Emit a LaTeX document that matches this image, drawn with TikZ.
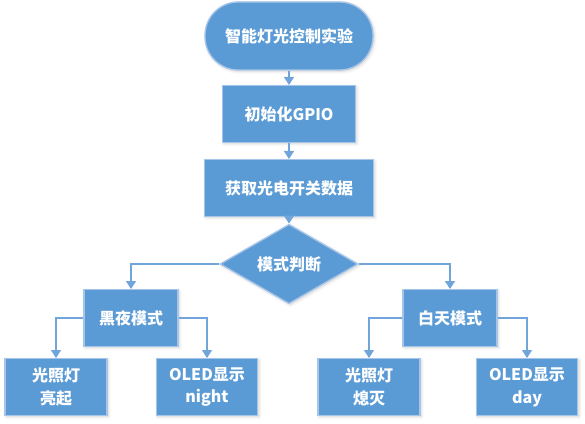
\documentclass[tikz,border=0pt]{standalone}
\usepackage{fontspec}
\setmainfont{Noto Sans CJK SC}
\usepackage{xcolor}
\usepackage{tikz}
\usetikzlibrary{arrows.meta}
\usetikzlibrary{shapes.geometric}
\usetikzlibrary{shadows.blur}

\definecolor{boxblue}{HTML}{5B9BD5}
\definecolor{rimblue}{HTML}{A7C5E8}
\definecolor{lineblue}{HTML}{6FA5DB}

\begin{document}
\begin{tikzpicture}[
                x = 0.75pt, y = -0.75pt,
                base/.style = {fill=boxblue, draw=rimblue, line width=1pt, text=white,
                    font=\bfseries\fontsize{12pt}{17pt}\selectfont, align=center, inner sep=0pt,
                    blur shadow={shadow xshift=1pt, shadow yshift=-1pt, shadow opacity=18, shadow blur steps=4}},
                start/.style = {base, rectangle, rounded corners=25pt, minimum width=126pt, minimum height=51pt},
                proc/.style = {base, rectangle, minimum width=#1, minimum height=42.5pt},
                judge/.style = {base, diamond, minimum width=103.5pt, minimum height=41.25pt},
                arr/.style = {draw=lineblue, line width=1pt, -{Triangle[width=7.5pt, length=6pt]}},
            ]
            \useasboundingbox (0,0) rectangle (585,424);

            \node (start) [start] at (289,36){智能灯光控制实验};
            \node (init) [proc=99.75pt] at (289,114){初始化GPIO};
            \node (data) [proc=126.75pt] at (289,188){获取光电开关数据};
            \node (mode) [judge] at (289,264){模式判断};

            \node (night) [proc=70.5pt] at (131,318){黑夜模式};
            \node (day) [proc=70.5pt] at (450,318){白天模式};

            \node (lampon) [proc=76.5pt] at (56,387){光照灯\\亮起};
            \node (olednight) [proc=76pt] at (207,387){OLED显示\\night};
            \node (lampoff) [proc=76.5pt] at (369,387){光照灯\\熄灭};
            \node (oledday) [proc=76pt] at (527,387){OLED显示\\day};

            \path[arr] (start) -- (init);
            \path[arr] (init) -- (data);
            \path[arr] (data) -- (mode);
            \path[arr] (mode.west) -| (night.north);
            \path[arr] (mode.east) -| (day.north);
            \path[arr] (night.west) -| (lampon.north);
            \path[arr] (night.east) -| (olednight.north);
            \path[arr] (day.west) -| (lampoff.north);
            \path[arr] (day.east) -| (oledday.north);
        \end{tikzpicture}
\end{document}
